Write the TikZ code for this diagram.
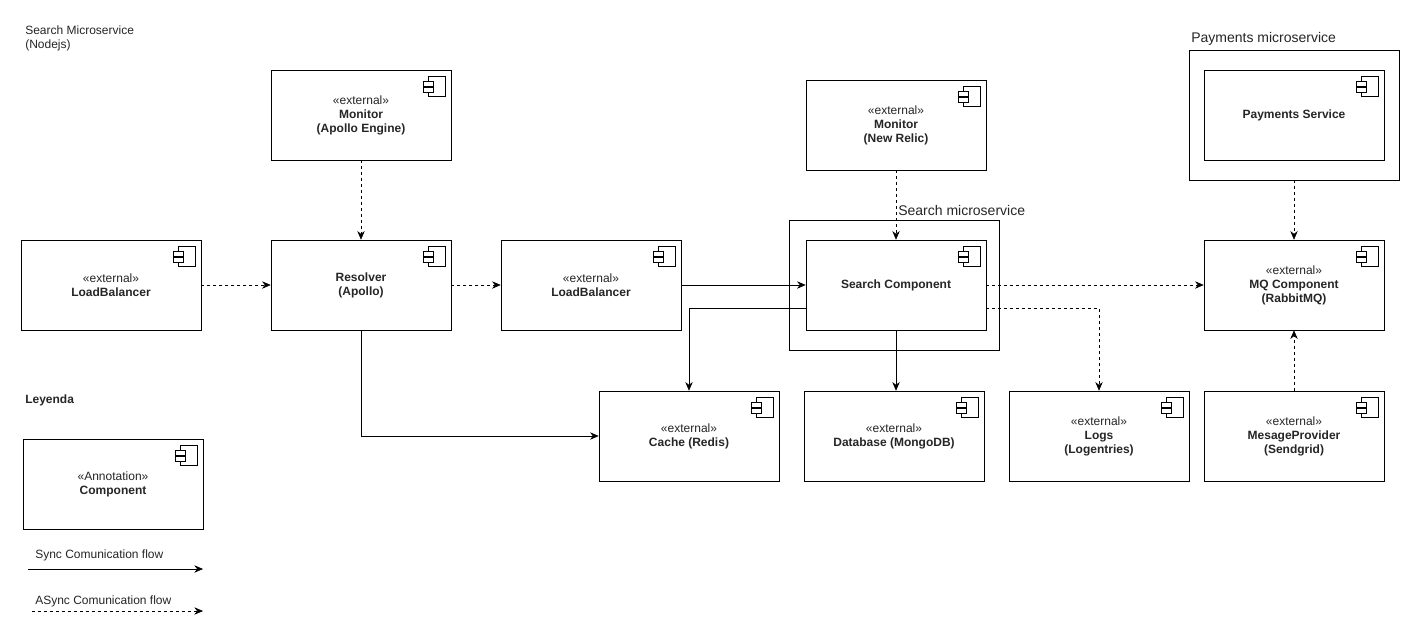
\documentclass[tikz,border=0pt]{standalone}
\usepackage{fontspec}
\setmainfont{Liberation Sans}
\usetikzlibrary{arrows.meta}
\newcommand{\szA}{\fontsize{9}{10.5}\selectfont}
\newcommand{\szB}{\fontsize{10.5}{12}\selectfont}
\tikzset{
  x=0.75pt,y=-0.75pt,
  line width=0.75pt,
  compbox/.style={draw=black,fill=white,minimum width=135pt,minimum height=67.5pt,inner sep=0pt,align=center,font=\szA,text=black!85},
  framebox/.style={draw=black,fill=white,inner sep=0pt},
  lbl/.style={inner sep=0pt,anchor=west,align=left,text=black!85},
  syncflow/.style={draw=black,-{Stealth[length=6.5pt,width=5.5pt]}},
  asyncflow/.style={syncflow,dash pattern=on 2.25pt off 2.25pt},
  iconpart/.style={draw=black,fill=white,line width=0.75pt}
}
\newcommand{\umlcomp}[4]{%
  \node[compbox] (#1) at (#2) {#3};
  \draw[iconpart] ([shift={(-23,7)}]#1.north east) rectangle ([shift={(-6,27)}]#1.north east);
  \draw[iconpart] ([shift={(-28,12)}]#1.north east) rectangle ([shift={(-18,17)}]#1.north east);
  \draw[iconpart] ([shift={(-28,18)}]#1.north east) rectangle ([shift={(-18,23)}]#1.north east);
}
\begin{document}
\begin{tikzpicture}
\useasboundingbox[fill=white] (0,0) rectangle (1420,640);
% outer frames
\node[framebox,minimum width=157.5pt,minimum height=97.5pt] (searchframe) at (894,285) {};
\node[framebox,minimum width=157.5pt,minimum height=97.5pt] (payframe) at (1294,115) {};
% components
\umlcomp{monA}{361,115}{«external»\\\textbf{Monitor}\\\textbf{(Apollo Engine)}}{}
\umlcomp{monB}{896,125}{«external»\\\textbf{Monitor}\\\textbf{(New Relic)}}{}
\umlcomp{pay}{1294,115}{\textbf{Payments Service}}{}
\umlcomp{lbA}{111,285}{«external»\\\textbf{LoadBalancer}}{}
\umlcomp{res}{361,285}{\textbf{Resolver}\\\textbf{(Apollo)}}{}
\umlcomp{lbB}{591,285}{«external»\\\textbf{LoadBalancer}}{}
\umlcomp{search}{896,285}{\textbf{Search Component}}{}
\umlcomp{mq}{1294,285}{«external»\\\textbf{MQ Component}\\\textbf{(RabbitMQ)}}{}
\umlcomp{cache}{689,436}{«external»\\\textbf{Cache (Redis)}}{}
\umlcomp{db}{894,436}{«external»\\\textbf{Database (MongoDB)}}{}
\umlcomp{logs}{1099,436}{«external»\\\textbf{Logs}\\\textbf{(Logentries)}}{}
\umlcomp{prov}{1294,436}{«external»\\\textbf{MesageProvider}\\\textbf{(Sendgrid)}}{}
\umlcomp{ann}{113,484}{«Annotation»\\\textbf{Component}}{}
% labels
\node[lbl,font=\szA] (title) at (25,38) {Search Microservice\\(Nodejs)};
\node[lbl,font=\szB] (paylbl) at (1191,39) {Payments microservice};
\node[lbl,font=\szB] (searchlbl) at (898,210) {Search microservice};
\node[lbl,font=\szA\bfseries] (leg) at (25,400) {Leyenda};
\node[lbl,font=\szA] (synclbl) at (35,555) {Sync Comunication flow};
\node[lbl,font=\szA] (asynclbl) at (35,601) {ASync Comunication flow};
% legend arrows
\coordinate (sa) at (28,569);
\coordinate (sb) at (203,569);
\coordinate (aa) at (32,611);
\coordinate (ab) at (203,611);
\draw[syncflow] (sa) -- (sb);
\draw[asyncflow] (aa) -- (ab);
% connectors
\draw[asyncflow] (lbA.east) -- (res.west);
\draw[asyncflow] (res.east) -- (lbB.west);
\draw[asyncflow] (monA.south) -- (res.north);
\draw[asyncflow] (monB.south) -- (search.north);
\draw[asyncflow] (payframe.south) -- (mq.north);
\draw[asyncflow] (search.east) -- (mq.west);
\draw[asyncflow] (prov.north) -- (mq.south);
\draw[syncflow] (lbB.east) -- (search.west);
\draw[syncflow] (res.south) |- (cache.west);
\draw[syncflow] (search.south) -- (search.south |- db.north);
\draw[syncflow] ([yshift=-17.25pt]search.west) -| (cache.north);
\draw[asyncflow] ([yshift=-17.25pt]search.east) -| (logs.north);
\end{tikzpicture}
\end{document}
